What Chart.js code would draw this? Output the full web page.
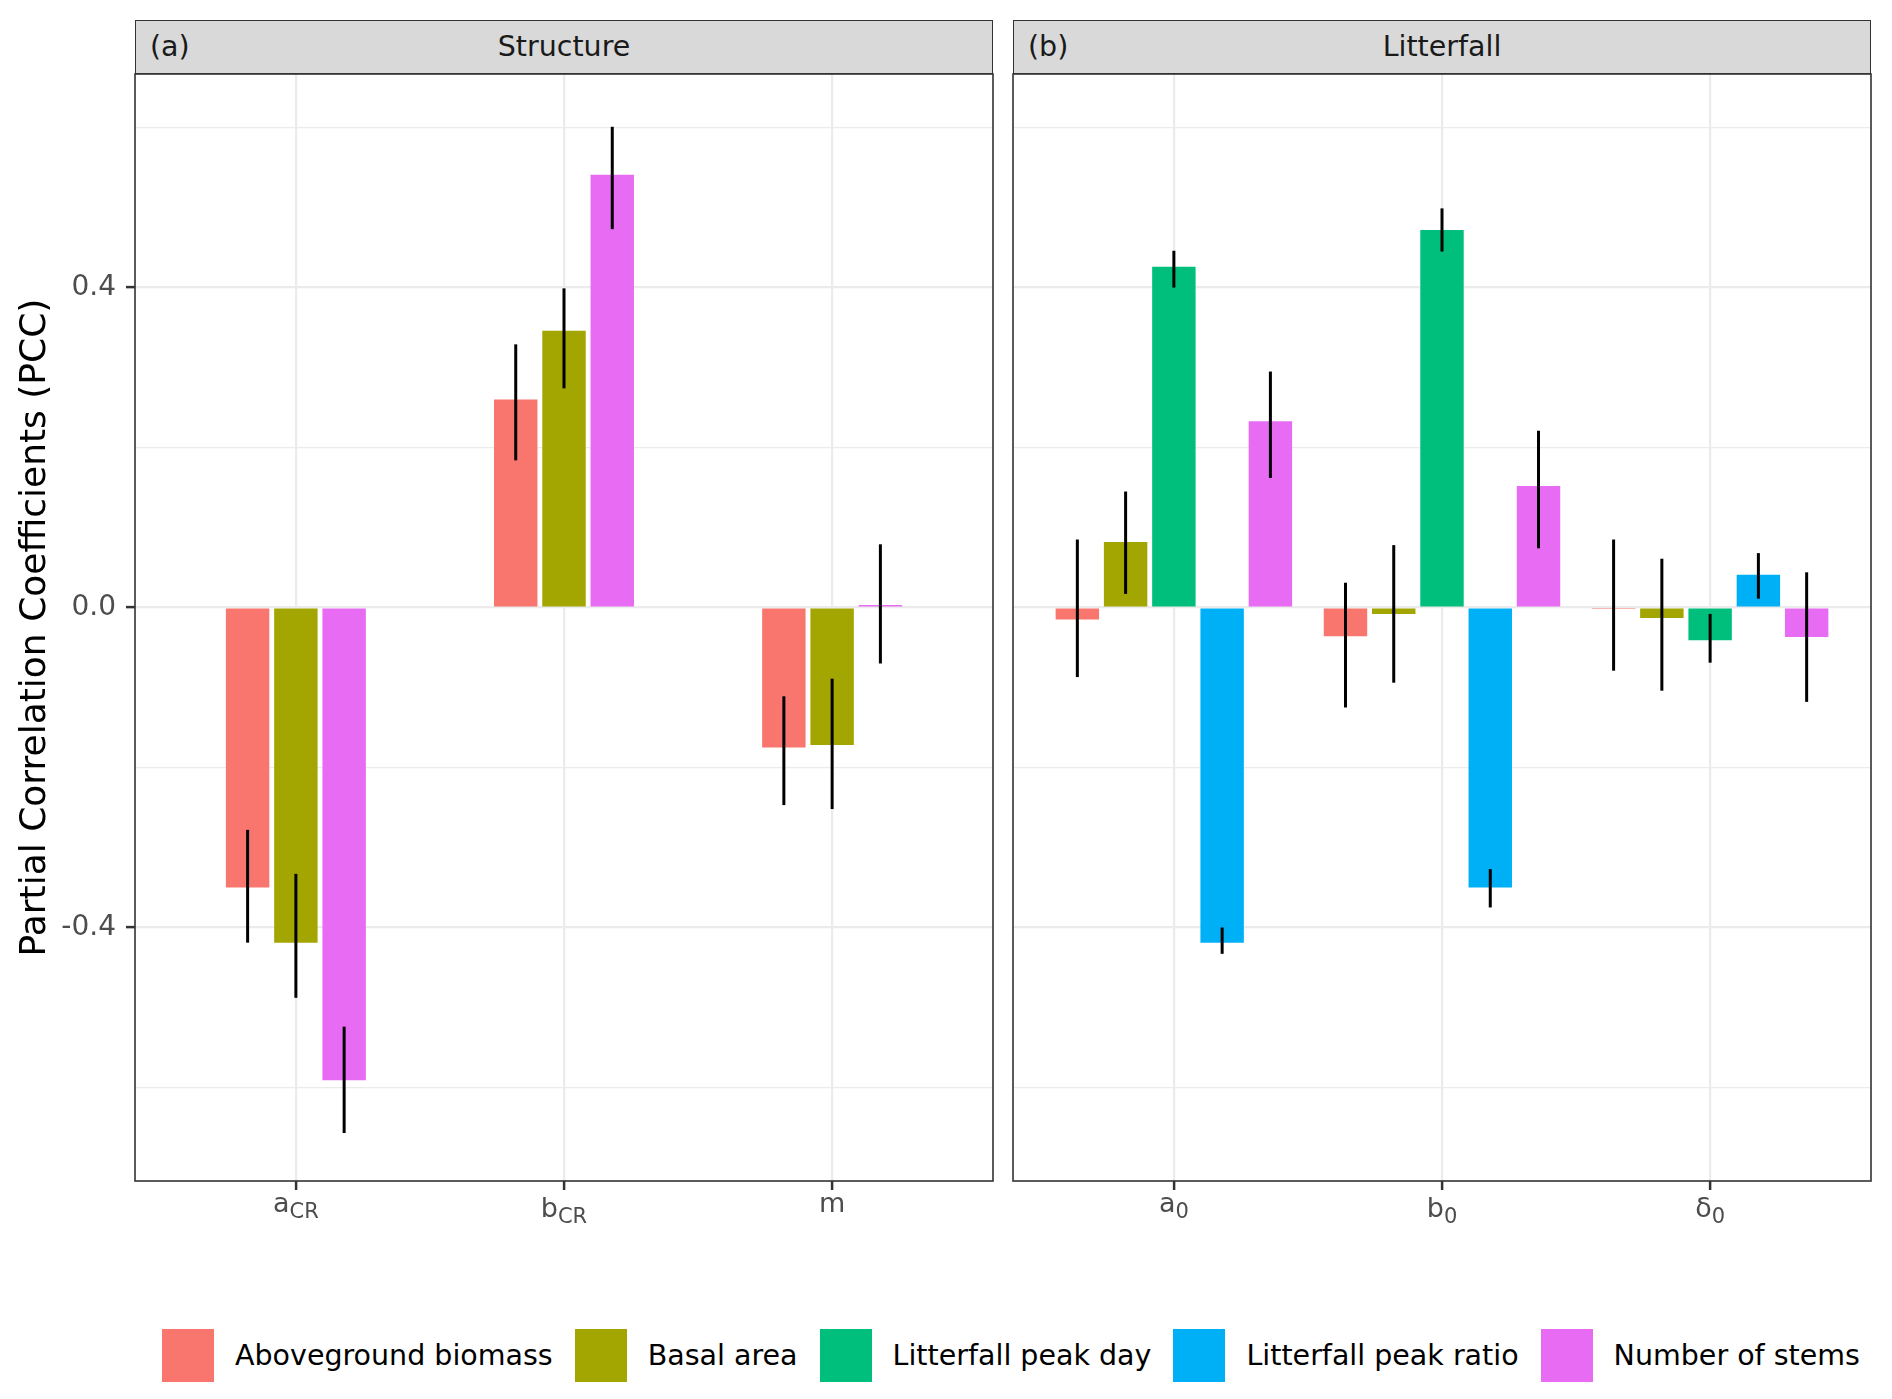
<!DOCTYPE html>
<html lang="en">
<head>
    <meta charset="UTF-8">
    <title>Partial Correlation Coefficients</title>
    <script src="https://cdn.jsdelivr.net/npm/chart.js"></script>
    <style>
        body { margin: 0; background: #fff; font-family: "DejaVu Sans", sans-serif; }
        #page { position: relative; width: 1892px; height: 1399px; }
        canvas { position: absolute; }
        .strip {
            position: absolute; top: 20px; width: 858px; height: 54px;
            box-sizing: border-box; background: #D9D9D9; border: 1.6px solid #333;
            font-size: 28.5px; color: #1A1A1A; line-height: 51px; text-align: center;
        }
        .strip .tag { position: absolute; left: 14px; top: 0; }
        #legend { position: absolute; left: 162px; top: 1329px; display: flex; align-items: center; }
        .key { width: 52px; height: 53px; margin-right: 21px; }
        .lab { font-size: 28.5px; color: #000; margin-right: 22px; white-space: nowrap; }
    </style>
</head>
<body>
<div id="page">
    <div class="strip" style="left:135px"><span class="tag">(a)</span>Structure</div>
    <div class="strip" style="left:1013px"><span class="tag">(b)</span>Litterfall</div>
    <canvas id="structureChart" width="1003" height="1217" style="left:0;top:34px"></canvas>
    <canvas id="litterChart" width="889" height="1217" style="left:1003px;top:34px"></canvas>
    <div id="legend"></div>
</div>

<script>
    // series names and colours (ggplot default hue palette)
    const seriesNames = ['Aboveground biomass', 'Basal area', 'Litterfall peak day', 'Litterfall peak ratio', 'Number of stems'];
    const seriesColors = ['#F8766D', '#A3A500', '#00BF7D', '#00B0F6', '#E76BF3'];

    // x labels: [main text, subscript]
    const structureCats = [['a', 'CR'], ['b', 'CR'], ['m', '']];
    const litterCats = [['a', '0'], ['b', '0'], ['\u03B4', '0']];

    // y ticks
    const yTicks = [-0.6, -0.4, -0.2, 0, 0.2, 0.4, 0.6];
    const yMin = -0.717, yMax = 0.667;

    // Structure panel (aboveground biomass, basal area, number of stems)
    const structAgb = [-0.350, 0.260, -0.175];
    const structAgbLo = [-0.419, 0.184, -0.247];
    const structAgbHi = [-0.278, 0.329, -0.111];
    const structBasal = [-0.419, 0.346, -0.172];
    const structBasalLo = [-0.488, 0.274, -0.252];
    const structBasalHi = [-0.333, 0.399, -0.089];
    const structStems = [-0.591, 0.541, 0.003];
    const structStemsLo = [-0.657, 0.473, -0.070];
    const structStemsHi = [-0.524, 0.601, 0.079];

    // Litterfall panel
    const litAgb = [-0.015, -0.036, -0.002];
    const litAgbLo = [-0.087, -0.125, -0.079];
    const litAgbHi = [0.085, 0.031, 0.085];
    const litBasal = [0.082, -0.008, -0.013];
    const litBasalLo = [0.017, -0.094, -0.104];
    const litBasalHi = [0.145, 0.078, 0.061];
    const litPeakDay = [0.426, 0.472, -0.041];
    const litPeakDayLo = [0.400, 0.445, -0.069];
    const litPeakDayHi = [0.446, 0.499, -0.008];
    const litPeakRatio = [-0.419, -0.350, 0.041];
    const litPeakRatioLo = [-0.433, -0.375, 0.011];
    const litPeakRatioHi = [-0.400, -0.327, 0.068];
    const litStems = [0.233, 0.152, -0.037];
    const litStemsLo = [0.162, 0.074, -0.118];
    const litStemsHi = [0.295, 0.221, 0.044];

    const tickFont = '"DejaVu Sans", sans-serif';
    const isMajor = v => Math.abs(Math.round(v * 10)) % 4 === 0;

    function makeSet(seriesIdx, vals, lo, hi) {
        return {
            label: seriesNames[seriesIdx],
            data: vals.map((v, i) => ({ x: i + 1, y: v })),
            backgroundColor: seriesColors[seriesIdx],
            borderWidth: 0,
            errLow: lo,
            errHigh: hi
        };
    }

    // vertical error lines at each bar centre
    const errorBars = {
        id: 'errorBars',
        afterDatasetsDraw(chart) {
            const ctx = chart.ctx, y = chart.scales.y;
            ctx.save();
            ctx.strokeStyle = '#000';
            ctx.lineWidth = 3;
            chart.data.datasets.forEach((ds, di) => {
                chart.getDatasetMeta(di).data.forEach((bar, i) => {
                    ctx.beginPath();
                    ctx.moveTo(bar.x, y.getPixelForValue(ds.errLow[i]));
                    ctx.lineTo(bar.x, y.getPixelForValue(ds.errHigh[i]));
                    ctx.stroke();
                });
            });
            ctx.restore();
        }
    };

    // panel border + x labels with subscripts
    const panelDeco = {
        id: 'panelDeco',
        afterDraw(chart, args, opts) {
            const ctx = chart.ctx, a = chart.chartArea, x = chart.scales.x;
            ctx.save();
            ctx.strokeStyle = '#333333';
            ctx.lineWidth = 1.6;
            ctx.strokeRect(a.left, a.top, a.right - a.left, a.bottom - a.top);

            ctx.fillStyle = '#4D4D4D';
            ctx.textAlign = 'left';
            ctx.textBaseline = 'alphabetic';
            const top = a.bottom + 16;
            opts.labels.forEach((lab, i) => {
                ctx.font = '27px ' + tickFont;
                const m = ctx.measureText(lab[0]);
                ctx.font = '21px ' + tickFont;
                const subW = lab[1] ? ctx.measureText(lab[1]).width : 0;
                const x0 = x.getPixelForValue(i + 1) - (m.width + subW) / 2;
                const base = top + m.actualBoundingBoxAscent;
                ctx.font = '27px ' + tickFont;
                ctx.fillText(lab[0], x0, base);
                if (lab[1]) {
                    ctx.font = '21px ' + tickFont;
                    ctx.fillText(lab[1], x0 + m.width, base + 6);
                }
            });
            ctx.restore();
        }
    };

    function buildOptions(showY, labels, catPct, padding) {
        return {
            responsive: false,
            animation: false,
            layout: { padding: padding },
            plugins: {
                legend: { display: false },
                tooltip: { enabled: false },
                panelDeco: { labels: labels }
            },
            datasets: { bar: { categoryPercentage: catPct, barPercentage: 0.9 } },
            scales: {
                x: {
                    type: 'linear',
                    min: 0.4,
                    max: 3.6,
                    offset: false,
                    afterBuildTicks: axis => { axis.ticks = labels.map((l, i) => ({ value: i + 1 })); },
                    afterFit: axis => { axis.height = 60; },
                    ticks: { display: false },
                    border: { display: false },
                    grid: {
                        offset: false,
                        color: '#EBEBEB',
                        lineWidth: 2.2,
                        drawTicks: true,
                        tickLength: 9,
                        tickColor: '#333333',
                        tickWidth: 2.5
                    }
                },
                y: {
                    min: yMin,
                    max: yMax,
                    afterBuildTicks: axis => { axis.ticks = yTicks.map(v => ({ value: v })); },
                    afterFit: axis => { axis.width = showY ? 135 : 0; },
                    border: { display: false },
                    title: {
                        display: showY,
                        text: 'Partial Correlation Coefficients (PCC)',
                        color: '#000',
                        font: { family: tickFont, size: 36 },
                        padding: { top: 14, bottom: 0 }
                    },
                    ticks: {
                        display: showY,
                        padding: 10,
                        color: '#4D4D4D',
                        font: { family: tickFont, size: 28 },
                        callback: v => isMajor(v) ? v.toFixed(1) : ''
                    },
                    grid: {
                        color: '#EBEBEB',
                        lineWidth: c => (c.tick && isMajor(c.tick.value)) ? 2.2 : 1.2,
                        drawTicks: showY,
                        tickLength: 9,
                        tickWidth: 2.5,
                        tickColor: c => (c.tick && isMajor(c.tick.value)) ? '#333333' : 'rgba(0,0,0,0)'
                    }
                }
            }
        };
    }

    new Chart(document.getElementById('structureChart'), {
        type: 'bar',
        data: {
            datasets: [
                makeSet(0, structAgb, structAgbLo, structAgbHi),
                makeSet(1, structBasal, structBasalLo, structBasalHi),
                makeSet(4, structStems, structStemsLo, structStemsHi)
            ]
        },
        options: buildOptions(true, structureCats, 0.54, { top: 40, right: 10, bottom: 10, left: 0 }),
        plugins: [errorBars, panelDeco]
    });

    new Chart(document.getElementById('litterChart'), {
        type: 'bar',
        data: {
            datasets: [
                makeSet(0, litAgb, litAgbLo, litAgbHi),
                makeSet(1, litBasal, litBasalLo, litBasalHi),
                makeSet(2, litPeakDay, litPeakDayLo, litPeakDayHi),
                makeSet(3, litPeakRatio, litPeakRatioLo, litPeakRatioHi),
                makeSet(4, litStems, litStemsLo, litStemsHi)
            ]
        },
        options: buildOptions(false, litterCats, 0.9, { top: 40, right: 21, bottom: 10, left: 10 }),
        plugins: [errorBars, panelDeco]
    });

    // shared legend below the panels
    const legend = document.getElementById('legend');
    seriesNames.forEach((name, i) => {
        const key = document.createElement('div');
        key.className = 'key';
        key.style.background = seriesColors[i];
        const lab = document.createElement('div');
        lab.className = 'lab';
        lab.textContent = name;
        legend.appendChild(key);
        legend.appendChild(lab);
    });
</script>
</body>
</html>
